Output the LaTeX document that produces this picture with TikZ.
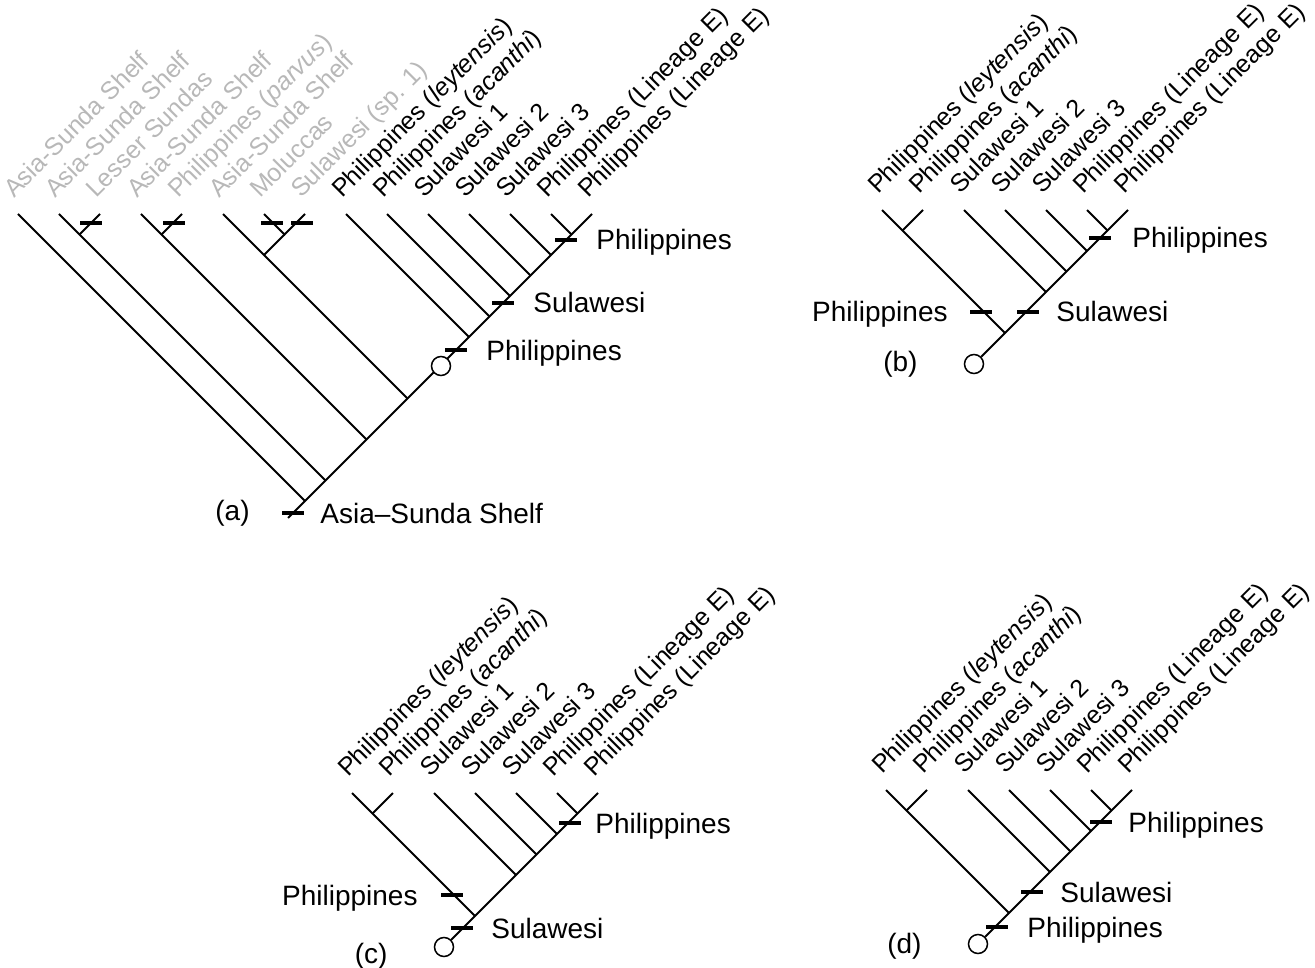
\documentclass[tikz,border=0pt]{standalone}
\usepackage{fontspec}
\setmainfont{Liberation Sans}
\usetikzlibrary{positioning}
\definecolor{fadedgray}{gray}{0.72}

\begin{document}
\begin{tikzpicture}[
    x=1pt, y=-1pt,
    branch/.style={line width=1.8pt},
    tickmark/.style={rectangle, fill=black, minimum width=22pt, minimum height=3.5pt, inner sep=0pt},
    taxon/.style={rotate=45, anchor=base west, inner sep=0pt, font=\fontsize{25}{30}\selectfont},
    oldtaxon/.style={taxon, text=fadedgray},
    eventtext/.style={inner sep=0pt, font=\fontsize{28}{34}\selectfont},
    eventright/.style={eventtext, anchor=base west, yshift=-10pt},
    eventleft/.style={eventtext, anchor=base east, yshift=-10pt},
    origin/.style={circle, draw, fill=white, line width=1.5pt, minimum size=19pt, inner sep=0pt},
    paneltext/.style={inner sep=0pt, font=\fontsize{28}{34}\selectfont}
]
    \useasboundingbox (0,0) rectangle (1315,968);

    % (a) full tree, tips 41pt apart
    \begin{scope}[shift={(18,214)}]
        \foreach \j in {0,...,14}
            \coordinate (a\j) at (41*\j,0);
        % leaves meeting the backbone
        \foreach \j in {0,1,3,5,8,9,10,11,12}
            \coordinate (aj\j) at ({(574+41*\j)/2},{(574-41*\j)/2});
        \coordinate (ac2) at (61.5,20.5);
        \coordinate (ac4) at (143.5,20.5);
        \coordinate (ac6) at (266.5,20.5);
        \coordinate (ac5) at (246,41);
        \coordinate (ac13) at (553.5,20.5);
        \coordinate (astem) at (270,304);

        \foreach \j in {0,1,3,5,8,9,10,11,12}
            \draw[branch] (a\j) -- (aj\j);
        \draw[branch] (a2) -- (ac2);
        \draw[branch] (a4) -- (ac4);
        \draw[branch] (a6) -- (ac6) -- (a7);
        \draw[branch] (ac6) -- (ac5);
        \draw[branch] (a13) -- (ac13);
        \draw[branch] (astem) -- (a14);
        \node[origin] (ao) at (423,152) {};

        % transitions
        \node[tickmark] (at1) at (73,9) {};
        \node[tickmark] (at2) at (156,9) {};
        \node[tickmark] (at3) at (254,9) {};
        \node[tickmark] (at4) at (284,9) {};
        \node[tickmark] (at5) at (438,136) {};
        \node[tickmark] (at6) at (485,89) {};
        \node[tickmark] (at7) at (548,26) {};
        \node[tickmark] (at0) at (275,299) {};
        \node[right=19pt of at7, eventright] {Philippines};
        \node[right=19pt of at6, eventright] {Sulawesi};
        \node[right=19pt of at5, eventright] {Philippines};
        \node[right=16pt of at0, eventright] {Asia--Sunda Shelf};
        \node[paneltext, left=32pt of at0] {(a)};

        % taxon names
        \foreach \j/\name in {0/Asia-Sunda Shelf, 1/Asia-Sunda Shelf, 2/Lesser Sundas, 3/Asia-Sunda Shelf,
                4/Philippines (\textit{parvus}), 5/Asia-Sunda Shelf, 6/Moluccas, 7/Sulawesi (sp. 1)}
            \node[above left=15pt and 4pt of a\j, oldtaxon] (an\j) {\name};
        \foreach \j/\name in {8/Philippines (\textit{leytensis}), 9/Philippines (\textit{acanthi}), 10/Sulawesi 1,
                11/Sulawesi 2, 12/Sulawesi 3, 13/Philippines (Lineage E), 14/Philippines (Lineage E)}
            \node[above left=15pt and 4pt of a\j, taxon] (an\j) {\name};
    \end{scope}

    % (b), (c), (d) share the seven tips
    \foreach \pan/\ox/\oy/\dy in {b/882/210/0pt, c/352/793/-9pt, d/886/790/-2pt} {
        \begin{scope}[shift={(\ox,\oy)}]
            \foreach \j in {0,...,6}
                \coordinate (\pan\j) at (41*\j,0);
            \foreach \j in {2,...,5}
                \coordinate (\pan-j\j) at ({(246+41*\j)/2},{(246-41*\j)/2});
            \coordinate (\pan-r) at (123,123);
            \coordinate (\pan-c) at (20.5,20.5);

            \draw[branch] (\pan0) -- (\pan-r);
            \draw[branch] (\pan1) -- (\pan-c);
            \foreach \j in {2,...,5}
                \draw[branch] (\pan\j) -- (\pan-j\j);
            \node[origin] (\pan-o) at (92,154) {};
            \draw[branch] (\pan-o) -- (\pan6);
            \node[paneltext, left=46pt of \pan-o, yshift=\dy] {(\pan)};

            \foreach \j/\name in {0/Philippines (\textit{leytensis}), 1/Philippines (\textit{acanthi}), 2/Sulawesi 1,
                    3/Sulawesi 2, 4/Sulawesi 3, 5/Philippines (Lineage E), 6/Philippines (Lineage E)}
                \node[above left=15pt and 4pt of \pan\j, taxon] {\name};
        \end{scope}
    }

    % (b) transitions
    \begin{scope}[shift={(882,210)}]
        \node[tickmark] (bt1) at (218,28) {};
        \node[tickmark] (bt2) at (146,102) {};
        \node[tickmark] (bt3) at (99,102) {};
        \node[right=21pt of bt1, eventright] {Philippines};
        \node[right=17pt of bt2, eventright] {Sulawesi};
        \node[left=22pt of bt3, eventleft] {Philippines};
    \end{scope}

    % (c) transitions
    \begin{scope}[shift={(352,793)}]
        \node[tickmark] (ct1) at (218,30) {};
        \node[tickmark] (ct2) at (100,102) {};
        \node[tickmark] (ct3) at (110,135) {};
        \node[right=14pt of ct1, eventright] {Philippines};
        \node[left=23pt of ct2, eventleft] {Philippines};
        \node[right=18pt of ct3, eventright] {Sulawesi};
    \end{scope}

    % (d) transitions
    \begin{scope}[shift={(886,790)}]
        \node[tickmark] (dt1) at (215,32) {};
        \node[tickmark] (dt2) at (146,102) {};
        \node[tickmark] (dt3) at (111,137) {};
        \node[right=16pt of dt1, eventright] {Philippines};
        \node[right=17pt of dt2, eventright] {Sulawesi};
        \node[right=19pt of dt3, eventright] {Philippines};
    \end{scope}

\end{tikzpicture}
\end{document}
